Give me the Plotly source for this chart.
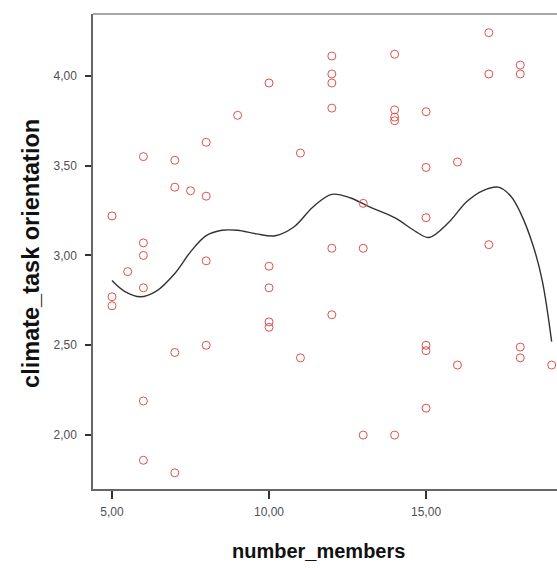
import plotly.graph_objects as go

# Scatter data: number_members vs climate_task orientation
members = [5, 5, 5, 5.5,
           6, 6, 6, 6, 6, 6,
           7, 7, 7, 7,
           7.5,
           8, 8, 8, 8,
           9,
           10, 10, 10, 10, 10,
           11, 11,
           12, 12, 12, 12, 12, 12,
           13, 13, 13,
           14, 14, 14, 14, 14,
           15, 15, 15, 15, 15, 15,
           16, 16,
           17, 17, 17,
           18, 18, 18, 18,
           19]
task_orientation = [3.22, 2.77, 2.72, 2.91,
                    3.55, 3.07, 3.00, 2.82, 2.19, 1.86,
                    3.53, 3.38, 2.46, 1.79,
                    3.36,
                    3.63, 3.33, 2.97, 2.50,
                    3.78,
                    3.96, 2.94, 2.82, 2.63, 2.60,
                    3.57, 2.43,
                    4.11, 4.01, 3.96, 3.82, 3.04, 2.67,
                    3.29, 3.04, 2.00,
                    4.12, 3.81, 3.77, 3.75, 2.00,
                    3.80, 3.49, 3.21, 2.50, 2.47, 2.15,
                    3.52, 2.39,
                    4.24, 4.01, 3.06,
                    4.06, 4.01, 2.49, 2.43,
                    2.39]

# Loess fit line
fit_x = [5.0, 5.4, 5.9, 6.4, 7.0, 7.5, 8.0, 8.5, 9.0, 9.6, 10.2, 10.8, 11.4, 12.0,
         12.6, 13.2, 14.0, 14.7, 15.1, 15.7, 16.3, 16.8, 17.3, 17.7, 18.0, 18.4, 18.7, 19.0]
fit_y = [2.86, 2.80, 2.77, 2.80, 2.90, 3.02, 3.11, 3.14, 3.14, 3.12, 3.11, 3.16, 3.27, 3.34,
         3.32, 3.27, 3.21, 3.13, 3.10, 3.18, 3.30, 3.36, 3.38, 3.33, 3.24, 3.06, 2.86, 2.52]

x_tickvals = [5, 10, 15]
x_ticktext = ["5,00", "10,00", "15,00"]
y_tickvals = [2.0, 2.5, 3.0, 3.5, 4.0]
y_ticktext = ["2,00", "2,50", "3,00", "3,50", "4,00"]

x_title = "number_members"
y_title = "climate_task orientation"

fig = go.Figure()
fig.add_trace(go.Scatter(
    x=fit_x, y=fit_y, mode="lines",
    line=dict(color="#333333", width=1.4, shape="spline", smoothing=1.0),
    showlegend=False, hoverinfo="skip"))
fig.add_trace(go.Scatter(
    x=members, y=task_orientation, mode="markers",
    marker=dict(symbol="circle-open", size=8, color="#d9534f", line=dict(width=1)),
    showlegend=False))

fig.update_layout(
    width=557, height=568,
    margin=dict(l=93, r=0, t=14, b=79, autoexpand=False),
    paper_bgcolor="white", plot_bgcolor="white",
    font=dict(family="Liberation Sans, Arial, sans-serif", color="#555555"),
    xaxis=dict(
        range=[4.395, 19.17], tickvals=x_tickvals, ticktext=x_ticktext,
        automargin=False, ticklabelstandoff=3,
        showgrid=False, zeroline=False, showline=True, linecolor="#666666", linewidth=1.5,
        ticks="outside", ticklen=8, tickwidth=2, tickcolor="#333333",
        tickfont=dict(size=12, color="#505050")),
    yaxis=dict(
        range=[1.70, 4.344], tickvals=y_tickvals, ticktext=y_ticktext,
        automargin=False, ticklabelstandoff=6,
        showgrid=False, zeroline=False, showline=True, linecolor="#666666", linewidth=1.5,
        ticks="outside", ticklen=6, tickwidth=2, tickcolor="#333333",
        tickfont=dict(size=12, color="#505050")),
    shapes=[dict(type="line", xref="paper", yref="paper", x0=0, x1=1, y0=1, y1=1,
                 line=dict(color="#888888", width=1.5))],
    annotations=[
        dict(text="<b>" + x_title + "</b>", xref="paper", yref="paper",
             x=0.485, y=-0.1305, xanchor="center", yanchor="middle", showarrow=False,
             font=dict(size=20, color="#111111")),
        dict(text="<b>" + y_title + "</b>", xref="paper", yref="paper",
             x=-0.1336, y=0.495, xanchor="center", yanchor="middle", showarrow=False,
             textangle=-90, font=dict(size=23.5, color="#111111")),
    ],
)

fig.write_html(
    "out.html",
    config={"displayModeBar": False},
    post_script="document.body.style.margin='0';document.body.style.overflow='hidden';",
)
